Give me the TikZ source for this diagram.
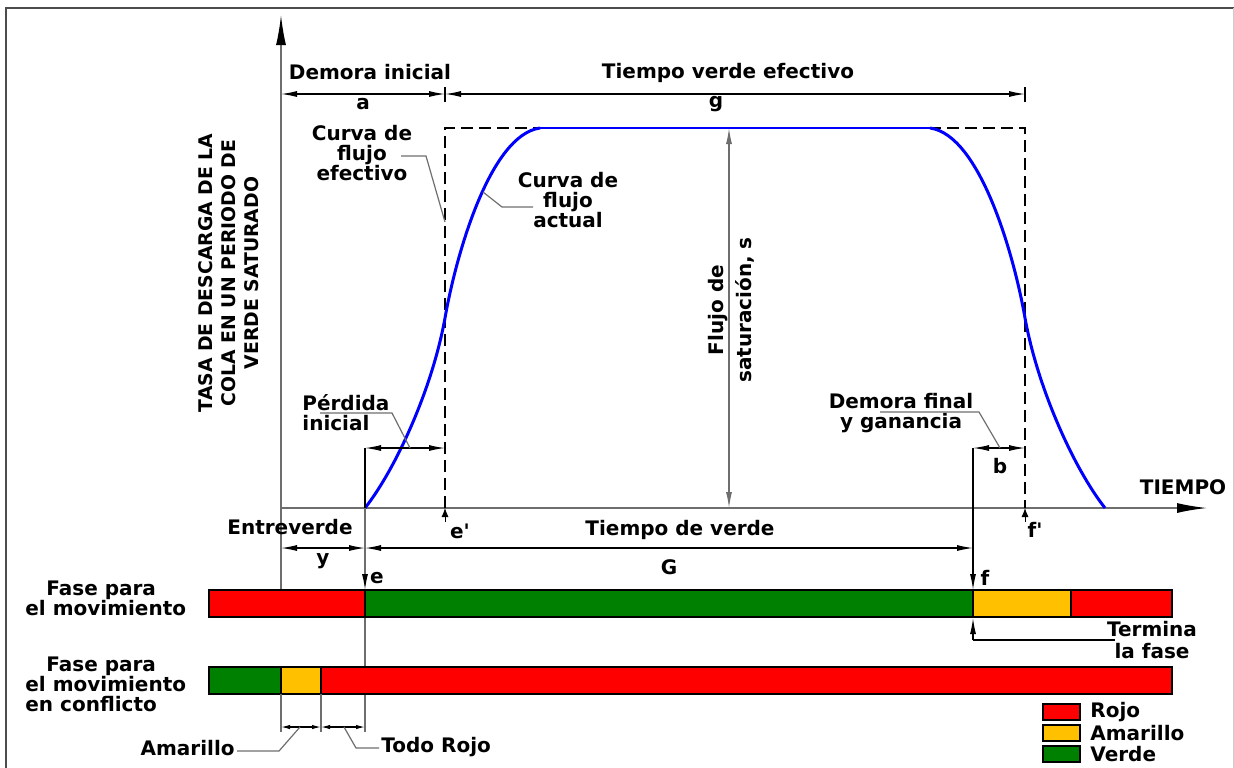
\documentclass[tikz,border=0pt]{standalone}
\usepackage{fontspec}
\setmainfont{DejaVu Sans}
\usepackage{xcolor}
\usetikzlibrary{arrows.meta}

\definecolor{rojo}{RGB}{255,0,0}
\definecolor{verde}{RGB}{0,128,0}
\definecolor{amarillo}{RGB}{255,192,0}
\definecolor{gris}{RGB}{110,110,110}

\begin{document}
\begin{tikzpicture}[x=0.5pt,y=-0.5pt,
  lbl/.style={font=\bfseries\fontsize{10}{10}\selectfont,inner sep=0pt,align=center},
  guia/.style={gris,line width=0.6pt},
  cota/.style={black,line width=0.6pt,<->},
  eje/.style={gris,line width=0.8pt},
  barra/.style={draw=black,line width=0.8pt}]
\useasboundingbox (0,0) rectangle (1234,767);
\begin{scope}[>={Latex[length=8pt,width=3pt]}]

    % marco
    \draw[black!70,line width=1.2pt] (6,775) -- (6,8) -- (1240,8);
    \draw[black!20,line width=0.5pt] (1233,8) -- (1233,775);

    % puntos
    \coordinate (O) at (281,508);
    \coordinate (Ytop) at (281,15);
    \coordinate (Ybot) at (281,590);
    \coordinate (Xend) at (1207,508);
    \coordinate (e) at (365,508);
    \coordinate (eloss) at (365,448);
    \coordinate (ebar) at (365,590);
    \coordinate (elow) at (365,732);
    \coordinate (ep) at (445,508);
    \coordinate (eptop) at (445,128);
    \coordinate (fptop) at (1025,128);
    \coordinate (fp) at (1025,508);
    \coordinate (f) at (973,448);
    \coordinate (fbar) at (973,590);
    \coordinate (s1) at (729,128);
    \coordinate (s2) at (729,508);

    % ejes
    \draw[eje,-{Latex[length=15pt,width=5pt,color=black]}] (Ybot) -- (Ytop);
    \draw[eje,-{Latex[length=15pt,width=5pt,color=black]}] (O) -- (Xend);
    \node[lbl] (tiempo) at (1183,487) {TIEMPO};
    \node[lbl,rotate=90,font=\bfseries\fontsize{9.4}{11.5}\selectfont] (tasa) at (229,273)
        {TASA DE DESCARGA DE LA\\COLA EN UN PERIODO DE\\VERDE SATURADO};

    % verde efectivo (rectangulo)
    \draw[line width=0.7pt,dash pattern=on 6pt off 3pt] (ep) -- (eptop) -- (fptop) -- (fp);

    % curva de flujo actual
    \draw[blue,line width=1.5pt] (e) .. controls (395,470) and (432,390) .. (445,318)
        .. controls (456,255) and (490,135) .. (540,128);
    \draw[blue,line width=0.8pt] (540,128) -- (930,128);
    \draw[blue,line width=1.5pt] (930,128) .. controls (980,135) and (1014,255) .. (1025,318)
        .. controls (1038,390) and (1075,470) .. (1105,508);

    % cotas superiores
    \coordinate (a0) at (281,94);
    \coordinate (a1) at (445,94);
    \coordinate (g1) at (1025,94);
    \draw[cota] (a0) -- (a1);
    \draw[cota] (a1) -- (g1);
    \draw[line width=0.6pt] (445,87) -- (445,102);
    \draw[line width=0.6pt] (1025,87) -- (1025,102);
    \node[lbl] (demora) at (370,72) {Demora inicial};
    \node[lbl] (a) at (363,104) {a};
    \node[lbl] (tve) at (728,73) {Tiempo verde efectivo};
    \node[lbl] (g) at (716,104) {g};

    % etiquetas de las curvas
    \node[lbl] (cfe) at (362,153) {Curva de\\flujo\\efectivo};
    \coordinate (cfeA) at (401,156);
    \coordinate (cfeB) at (426,156);
    \coordinate (cfeC) at (445,222);
    \draw[guia] (cfeA) -- (cfeB) -- (cfeC);
    \node[lbl] (cfa) at (568,200) {Curva de\\flujo\\actual};
    \coordinate (cfaA) at (533,207);
    \coordinate (cfaB) at (502,207);
    \coordinate (cfaC) at (483,192);
    \draw[guia] (cfaA) -- (cfaB) -- (cfaC);

    % flujo de saturacion
    \draw[gris,line width=0.6pt,<->] (s1) -- (s2);
    \node[lbl,rotate=90,font=\bfseries\fontsize{10}{14}\selectfont] (fsat) at (731,310)
        {Flujo de\\saturación, s};

    % perdida inicial
    \draw[line width=0.6pt] (eloss) -- (e);
    \coordinate (p1) at (445,448);
    \draw[cota] (eloss) -- (p1);
    \node[lbl,align=left,anchor=west] (perd) at (302,413) {Pérdida\\inicial};
    \coordinate (perdA) at (320,413);
    \coordinate (perdB) at (392,413);
    \coordinate (perdC) at (410,448);
    \draw[guia] (perdA) -- (perdB) -- (perdC);

    % demora final
    \draw[line width=0.6pt,->] (f) -- (fbar);
    \coordinate (b1) at (1025,448);
    \draw[cota] (f) -- (b1);
    \node[lbl] (b) at (1000,466) {b};
    \node[lbl] (dfin) at (901,413) {Demora final\\y ganancia};
    \coordinate (dfA) at (880,412);
    \coordinate (dfB) at (979,412);
    \coordinate (dfC) at (1000,448);
    \draw[guia] (dfA) -- (dfB) -- (dfC);

    % e' y f'
    \coordinate (epA) at (445,522);
    \coordinate (fpA) at (1025,522);
    \draw[-{Latex[length=4.5pt,width=3.5pt]}] (epA) -- (ep);
    \draw[-{Latex[length=4.5pt,width=3.5pt]}] (fpA) -- (fp);
    \node[lbl] (epl) at (460,531) {e\textquotesingle};
    \node[lbl] (fpl) at (1035,530) {f\textquotesingle};

    % entreverde y tiempo de verde
    \draw[gris,line width=0.6pt,-{Latex[length=8pt,width=3pt,color=black]}] (e) -- (ebar);
    \draw[gris,line width=0.6pt] (ebar) -- (elow);
    \coordinate (y0) at (281,548);
    \coordinate (y1) at (365,548);
    \coordinate (G1) at (973,548);
    \draw[cota] (y0) -- (y1);
    \draw[cota] (y1) -- (G1);
    \node[lbl] (entre) at (290,527) {Entreverde};
    \node[lbl] (yl) at (323,561) {y};
    \node[lbl] (tdv) at (680,530) {Tiempo de verde};
    \node[lbl] (G) at (669,567) {G};
    \node[lbl] (el) at (377,578) {e};
    \node[lbl] (fl) at (985,578) {f};

    % fases
    \filldraw[barra,fill=rojo] (209,590) rectangle (365,617);
    \filldraw[barra,fill=verde] (365,590) rectangle (973,617);
    \filldraw[barra,fill=amarillo] (973,590) rectangle (1071,617);
    \filldraw[barra,fill=rojo] (1071,590) rectangle (1172,617);
    \filldraw[barra,fill=verde] (209,667) rectangle (281,694);
    \filldraw[barra,fill=amarillo] (281,667) rectangle (321,694);
    \filldraw[barra,fill=rojo] (321,667) rectangle (1172,694);
    \node[lbl,align=left,anchor=west] (fase1) at (25,598) {\hspace*{1.05em}Fase para\\el movimiento};
    \node[lbl,align=left,anchor=west] (fase2) at (25,684) {\hspace*{1.05em}Fase para\\el movimiento\\en conflicto};

    % termina la fase
    \coordinate (tA) at (973,640);
    \coordinate (tB) at (973,618);
    \coordinate (tC) at (1115,640);
    \draw[line width=0.6pt,->] (tA) -- (tB);
    \draw[line width=0.6pt] (tA) -- (tC);
    \node[lbl,font=\bfseries\fontsize{10}{11}\selectfont] (term) at (1152,640) {Termina\\la fase};

    % amarillo y todo rojo
    \draw[gris,line width=0.6pt] (281,694) -- (281,732);
    \draw[gris,line width=0.6pt] (321,694) -- (321,732);
    \coordinate (r0) at (281,727);
    \coordinate (r1) at (321,727);
    \coordinate (r2) at (365,727);
    \draw[cota,>={Latex[length=4.5pt,width=2.2pt]}] (r0) -- (r1);
    \draw[cota,>={Latex[length=4.5pt,width=2.2pt]}] (r1) -- (r2);
    \node[lbl,anchor=east] (amar) at (235,748) {Amarillo};
    \coordinate (amA) at (237,751);
    \coordinate (amB) at (279,751);
    \coordinate (amC) at (300,727);
    \draw[guia] (amA) -- (amB) -- (amC);
    \node[lbl,anchor=west] (todo) at (381,747) {Todo Rojo};
    \coordinate (trA) at (379,748);
    \coordinate (trB) at (356,748);
    \coordinate (trC) at (344,727);
    \draw[guia] (trA) -- (trB) -- (trC);

    % leyenda
    \filldraw[barra,fill=rojo] (1043,704) rectangle (1080,720);
    \filldraw[barra,fill=amarillo] (1043,725) rectangle (1080,741);
    \filldraw[barra,fill=verde] (1043,746) rectangle (1080,762);
    \node[lbl,anchor=west] (lrojo) at (1090,712) {Rojo};
    \node[lbl,anchor=west] (lamar) at (1090,733) {Amarillo};
    \node[lbl,anchor=west] (lverde) at (1090,754) {Verde};

\end{scope}
\end{tikzpicture}
\end{document}
